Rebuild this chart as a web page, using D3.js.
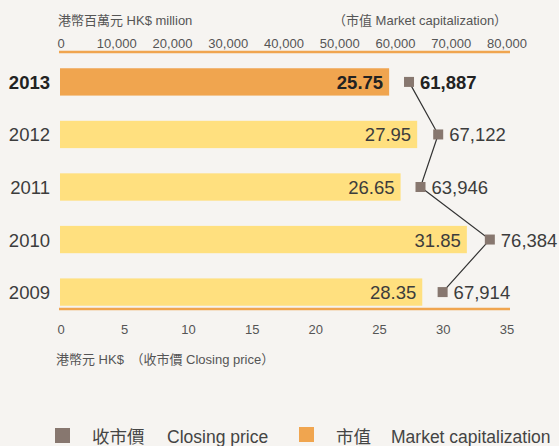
<!DOCTYPE html>
<html>
<head>
<meta charset="utf-8">
<script src="https://cdn.jsdelivr.net/npm/d3@7"></script>
<style>
  body { margin: 0; background: #f6f4f1; }
  svg text { font-family: "Liberation Sans", "Noto Sans CJK TC", sans-serif; }
</style>
</head>
<body>
<svg id="chart" width="559" height="446"></svg>
<script>
    // data
    var years = ["2013", "2012", "2011", "2010", "2009"],
        closingPrice = [25.75, 27.95, 26.65, 31.85, 28.35],
        marketCap = [61887, 67122, 63946, 76384, 67914],
        capTicks = [0, 10000, 20000, 30000, 40000, 50000, 60000, 70000, 80000],
        priceTicks = [0, 5, 10, 15, 20, 25, 30, 35];

    var svg = d3.select("#chart"),
        left = 61,
        right = 507,
        fmt = d3.format(",");

    var xPrice = d3.scaleLinear().domain([0, 35]).range([left, right]),
        xCap = d3.scaleLinear().domain([0, 80000]).range([left, right]),
        y = d3.scaleBand().domain(years).range([63, 311]).paddingInner(0.48).paddingOuter(0.1);

    var rows = years.map(function (yr, i) {
        return { year: yr, price: closingPrice[i], cap: marketCap[i], latest: i === 0 };
    });

    // header texts
    svg.append("text").attr("x", 58).attr("y", 25).attr("font-size", 13).attr("fill", "#555")
        .text("港幣百萬元 HK$ million");
    svg.append("text").attr("x", 333).attr("y", 25).attr("font-size", 13).attr("fill", "#555")
        .text("（市值 Market capitalization）");

    // top axis (market cap)
    var topAxis = svg.append("g");
    topAxis.append("line").attr("x1", left - 2).attr("x2", right + 3).attr("y1", 52).attr("y2", 52)
        .attr("stroke", "#f0a54f").attr("stroke-width", 2.5);
    topAxis.selectAll("text.tick").data(capTicks).enter().append("text")
        .attr("class", "tick")
        .attr("x", function (d) { return xCap(d); })
        .attr("y", 48)
        .attr("text-anchor", "middle")
        .attr("font-size", 13)
        .attr("fill", "#555")
        .text(function (d) { return fmt(d); });

    // bars (closing price)
    svg.selectAll("rect.bar").data(rows).enter().append("rect")
        .attr("class", "bar")
        .attr("x", xPrice(0) - 1)
        .attr("y", function (d) { return y(d.year); })
        .attr("width", function (d) { return xPrice(d.price) - xPrice(0) + 1; })
        .attr("height", y.bandwidth())
        .attr("fill", function (d) { return d.latest ? "#f0a54f" : "#ffe07f"; });

    svg.selectAll("text.price").data(rows).enter().append("text")
        .attr("class", "price")
        .attr("x", function (d) { return xPrice(d.price) - 6; })
        .attr("y", function (d) { return y(d.year) + y.bandwidth() / 2 + 7; })
        .attr("text-anchor", "end")
        .attr("font-size", 18.5)
        .attr("font-weight", function (d) { return d.latest ? "bold" : "normal"; })
        .attr("fill", function (d) { return d.latest ? "#222" : "#3c3c3c"; })
        .text(function (d) { return d.price.toFixed(2); });

    // year labels
    svg.selectAll("text.year").data(rows).enter().append("text")
        .attr("class", "year")
        .attr("x", 50)
        .attr("y", function (d) { return y(d.year) + y.bandwidth() / 2 + 7; })
        .attr("text-anchor", "end")
        .attr("font-size", 18.5)
        .attr("font-weight", function (d) { return d.latest ? "bold" : "normal"; })
        .attr("fill", function (d) { return d.latest ? "#222" : "#3c3c3c"; })
        .text(function (d) { return d.year; });

    // market cap line and markers (drawn a touch right of the axis, as in the original)
    var capX = function (d) { return xCap(d.cap) + 3; },
        rowY = function (d) { return y(d.year) + y.bandwidth() / 2; };
    svg.append("path").datum(rows)
        .attr("d", d3.line().x(capX).y(rowY))
        .attr("fill", "none")
        .attr("stroke", "#333")
        .attr("stroke-width", 1.2);

    svg.selectAll("rect.marker").data(rows).enter().append("rect")
        .attr("class", "marker")
        .attr("x", function (d) { return capX(d) - 5; })
        .attr("y", function (d) { return rowY(d) - 5; })
        .attr("width", 10)
        .attr("height", 10)
        .attr("fill", "#87776f");

    svg.selectAll("text.cap").data(rows).enter().append("text")
        .attr("class", "cap")
        .attr("x", function (d) { return capX(d) + 11; })
        .attr("y", function (d) { return rowY(d) + 7; })
        .attr("font-size", 18.5)
        .attr("font-weight", function (d) { return d.latest ? "bold" : "normal"; })
        .attr("fill", function (d) { return d.latest ? "#222" : "#3c3c3c"; })
        .text(function (d) { return fmt(d.cap); });

    // bottom axis (closing price)
    var bottomAxis = svg.append("g");
    bottomAxis.append("line").attr("x1", left - 2).attr("x2", right + 3).attr("y1", 309).attr("y2", 309)
        .attr("stroke", "#f0a54f").attr("stroke-width", 2.5);
    bottomAxis.selectAll("text.tick").data(priceTicks).enter().append("text")
        .attr("class", "tick")
        .attr("x", function (d) { return xPrice(d); })
        .attr("y", 334)
        .attr("text-anchor", "middle")
        .attr("font-size", 13)
        .attr("fill", "#555")
        .text(function (d) { return d; });

    svg.append("text").attr("x", 56).attr("y", 364).attr("font-size", 13).attr("fill", "#555")
        .text("港幣元 HK$　（收市價 Closing price）");

    // legend
    var legend = svg.append("g");
    legend.append("rect").attr("x", 55).attr("y", 428).attr("width", 15).attr("height", 15).attr("fill", "#87776f");
    legend.append("text").attr("x", 92).attr("y", 443).attr("font-size", 17.5).attr("fill", "#444").text("收市價");
    legend.append("text").attr("x", 167).attr("y", 443).attr("font-size", 17.5).attr("fill", "#444").text("Closing price");
    legend.append("rect").attr("x", 299).attr("y", 427).attr("width", 15).attr("height", 15).attr("fill", "#f0a54f");
    legend.append("text").attr("x", 336).attr("y", 443).attr("font-size", 17.5).attr("fill", "#444").text("市值");
    legend.append("text").attr("x", 391).attr("y", 443).attr("font-size", 17.5).attr("fill", "#444").text("Market capitalization");
</script>
</body>
</html>
